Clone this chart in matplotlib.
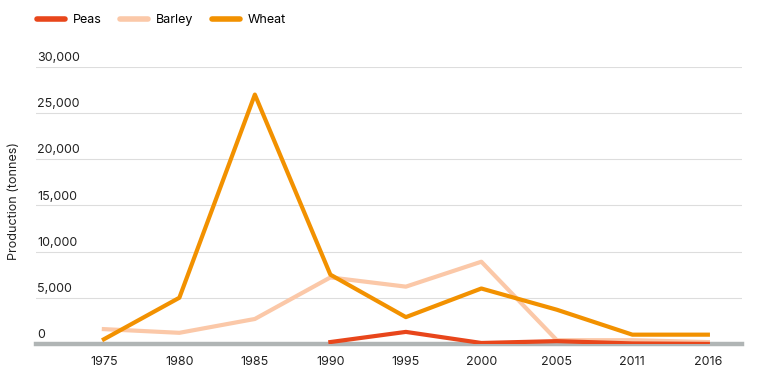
import numpy as np
from matplotlib import pyplot as plt
from matplotlib import transforms

plt.rcParams['font.family'] = ['Inter', 'DejaVu Sans']

years = ['1975', '1980', '1985', '1990', '1995', '2000', '2005', '2011', '2016']
peas = [np.nan, np.nan, np.nan, 200, 1300, 100, 300, 50, 0]
barley = [1600, 1200, 2700, 7200, 6200, 8900, 400, 400, 200]
wheat = [500, 5000, 27000, 7500, 2900, 6000, 3700, 1000, 1000]
yticks = [0, 5000, 10000, 15000, 20000, 25000, 30000]

c_peas = '#e8461b'
c_barley = '#fbc8a8'
c_wheat = '#f29100'

fig = plt.figure(figsize=(7.64, 3.80), dpi=100)
ax = fig.add_axes([0.047, 0.095, 0.924, 0.729])

x = np.arange(len(years))
ax.plot(x, peas, color=c_peas, lw=3, label='Peas', zorder=5)
ax.plot(x, barley, color=c_barley, lw=3, label='Barley', zorder=4)
ax.plot(x, wheat, color=c_wheat, lw=3, label='Wheat', zorder=6)

ax.set_xlim(-0.9, 8.45)
ax.set_ylim(0, 30000)

# grid lines and the thick base line
for v in yticks[1:]:
    ax.axhline(v, color='#dddddd', lw=0.8, zorder=1)
ax.axhline(0, color='#b0b5b5', lw=3.2, zorder=3, clip_on=False)

# y labels sit above their grid line, left aligned
off = transforms.offset_copy(ax.transData, fig=fig, x=1, y=2, units='points')
for v in yticks:
    ax.text(-0.88, v, f'{v:,}', ha='left', va='bottom', fontsize=9,
            color='#222222', transform=transforms.blended_transform_factory(ax.transData, off))
ax.set_yticks([])

ax.set_xticks(x)
ax.set_xticklabels(years, fontsize=9, color='#222222')
ax.tick_params(axis='x', length=0, pad=9)
for s in ax.spines.values():
    s.set_visible(False)

fig.text(0.018, 0.47, 'Production (tonnes)', rotation=90, ha='center', va='center',
         fontsize=9, color='#222222')

fig.legend(loc='upper left', bbox_to_anchor=(0.034, 0.992), ncol=3, frameon=False,
           fontsize=9, handlelength=2.2, columnspacing=1.5, handletextpad=0.65)
for l in fig.legends[0].get_lines():
    l.set_linewidth(4)
    l.set_solid_capstyle('round')

plt.savefig('out.png', dpi=100)
